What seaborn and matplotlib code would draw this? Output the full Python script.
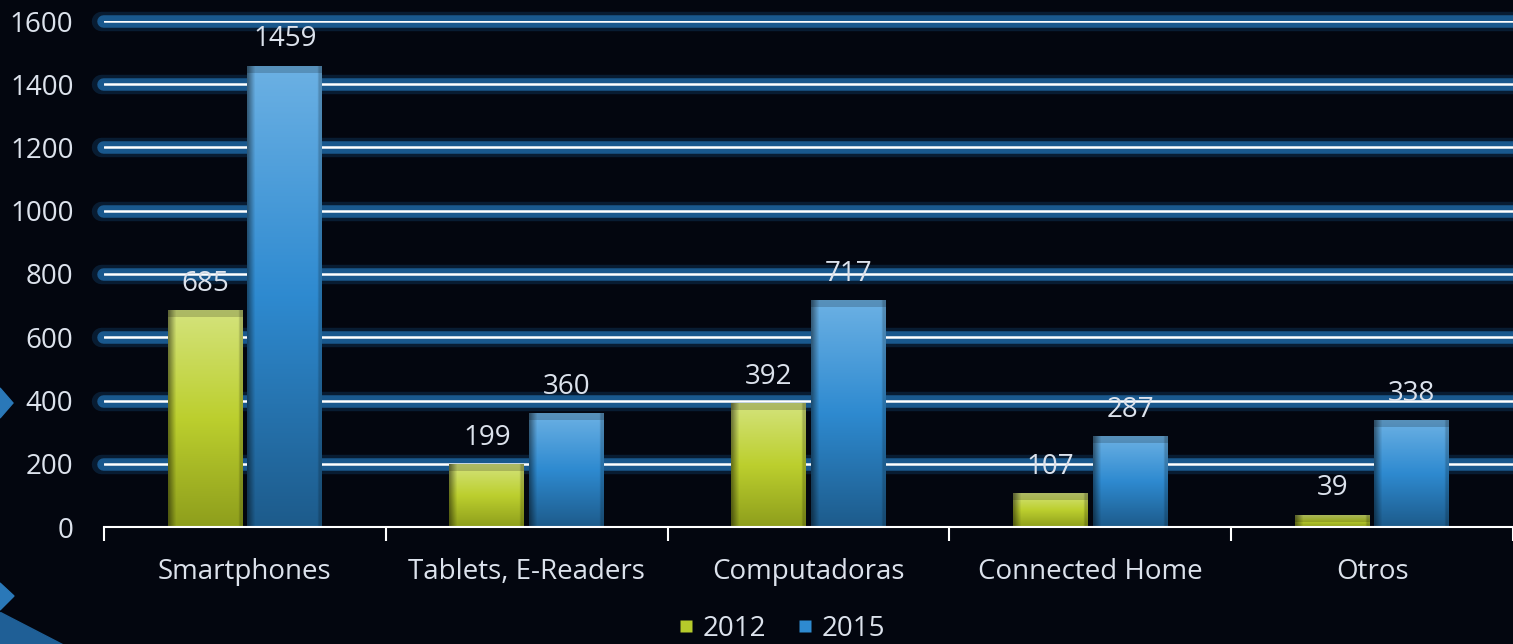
import numpy as np
import pandas as pd
import matplotlib
matplotlib.use("Agg")
import matplotlib.pyplot as plt
import seaborn as sns
from matplotlib.lines import Line2D
from matplotlib.patches import Polygon
from matplotlib.colors import to_rgb

# ---------------- data ----------------
categories = ["Smartphones", "Tablets, E-Readers", "Computadoras", "Connected Home", "Otros"]
years = ["2012", "2015"]
values_2012 = [685, 199, 392, 107, 39]
values_2015 = [1459, 360, 717, 287, 338]
yticks = [0, 200, 400, 600, 800, 1000, 1200, 1400, 1600]

df = pd.DataFrame({
    "Categoria": categories * 2,
    "Anio": [years[0]] * len(categories) + [years[1]] * len(categories),
    "Valor": values_2012 + values_2015,
})

# ---------------- style ----------------
bg = "#03060f"
txt = "#dce2ec"
base_colors = {"2012": "#b6ca2b", "2015": "#2e8ad0"}
grad_stops = {
    "2012": ["#d4e37c", "#bccf2e", "#8e9e1c"],
    "2015": ["#6cb1e4", "#2e8ad0", "#1d5b8b"],
}
FS = 20

sns.set_theme(style="dark")
plt.rcParams["font.family"] = ["Open Sans", "DejaVu Sans"]

fig = plt.figure(figsize=(15.13, 6.44), dpi=100, facecolor=bg)
ax = fig.add_axes([104 / 1513, 1 - 527 / 644, 1 - 104 / 1513, (527 - 21) / 644])
ax.set_facecolor(bg)

sns.barplot(data=df, x="Categoria", y="Valor", hue="Anio", hue_order=years,
            palette=base_colors, width=0.565, gap=0.06, ax=ax,
            legend=False, zorder=3, errorbar=None, linewidth=0)

ax.set_ylim(0, 1600)
xlim = ax.get_xlim()
ylim = ax.get_ylim()

# glowing grid lines
for y in yticks[1:]:
    ax.axhline(y, xmin=-0.002, color="#1a5f9c", lw=14, alpha=0.25, zorder=1,
               solid_capstyle="round", clip_on=False)
    ax.axhline(y, xmin=-0.001, color="#1d639e", lw=9, alpha=0.85, zorder=1,
               solid_capstyle="round", clip_on=False)
    ax.axhline(y, color="white", lw=1.8, zorder=2)

# gradient fill of bars
def gradient_img(stops, ncols=40):
    cs = np.array([to_rgb(c) for c in stops])
    n = 200
    t = np.linspace(0, 1, n)
    pos = np.linspace(0, 1, len(cs))
    col = np.stack([np.interp(t, pos, cs[:, k]) for k in range(3)], axis=1)  # top->bottom
    img = np.repeat(col[:, None, :], ncols, axis=1)
    xs = np.linspace(0, 1, ncols)
    shade = np.ones(ncols)
    shade = np.where(xs < 0.1, 0.55 + 0.45 * xs / 0.1, shade)
    shade = np.where(xs > 0.96, 0.8, shade)
    img = img * shade[None, :, None]
    return np.clip(img, 0, 1)

for cont, yr in zip(ax.containers, years):
    img = gradient_img(grad_stops[yr])
    for p in cont.patches:
        x0, w, h = p.get_x(), p.get_width(), p.get_height()
        im = ax.imshow(img, extent=[x0, x0 + w, 0, h], aspect="auto",
                       zorder=3.5, interpolation="bilinear")
        im.set_clip_path(p)
        ax.fill_between([x0, x0 + w], h - min(h, 22), h, color="black",
                        alpha=0.18, zorder=3.6, lw=0)
    ax.bar_label(cont, padding=9, color=txt, fontsize=FS, zorder=5)

ax.set_xlim(xlim)
ax.set_ylim(ylim)

# axes styling
for s in ["top", "right", "left"]:
    ax.spines[s].set_visible(False)
ax.spines["bottom"].set_color("white")
ax.spines["bottom"].set_linewidth(1.5)
ax.spines["bottom"].set_zorder(6)
ax.set_yticks(yticks)
ax.set_yticklabels([str(v) for v in yticks])
ax.tick_params(axis="y", length=0, pad=22, labelcolor=txt, labelsize=FS)
ax.set_xticks(range(len(categories)))
ax.set_xticks(np.arange(-0.5, len(categories), 1.0), minor=True)
ax.tick_params(axis="x", which="both", bottom=True)
ax.tick_params(axis="x", which="major", length=0, pad=22, labelcolor=txt, labelsize=FS)
ax.tick_params(axis="x", which="minor", length=10, width=1.5, color="white", direction="out")
ax.set_xlabel("")
ax.set_ylabel("")
ax.grid(False)

# legend
handles = [Line2D([], [], marker="s", linestyle="", markersize=8,
                  markerfacecolor=base_colors[y], markeredgecolor="none", label=y)
           for y in years]
fig.legend(handles=handles, loc="center", bbox_to_anchor=(780 / 1513, 1 - 629 / 644),
           ncol=2, frameon=False, fontsize=FS, labelcolor=txt,
           handletextpad=0.2, columnspacing=1.0, handlelength=0.8)

# decorative shapes at left edge
fig.patches.append(Polygon([[0, 1 - 388 / 644], [13 / 1513, 1 - 403 / 644], [0, 1 - 418 / 644]],
                           closed=True, transform=fig.transFigure, color="#2a78b8", zorder=0))
fig.patches.append(Polygon([[0, 1 - 583 / 644], [14 / 1513, 1 - 596 / 644], [0, 1 - 610 / 644]],
                           closed=True, transform=fig.transFigure, color="#2a78b8", zorder=0))
fig.patches.append(Polygon([[0, 1 - 612 / 644], [0, 0], [62 / 1513, 0]],
                           closed=True, transform=fig.transFigure, color="#1f5f96", zorder=0))

fig.savefig("out.png", dpi=100, facecolor=bg)
